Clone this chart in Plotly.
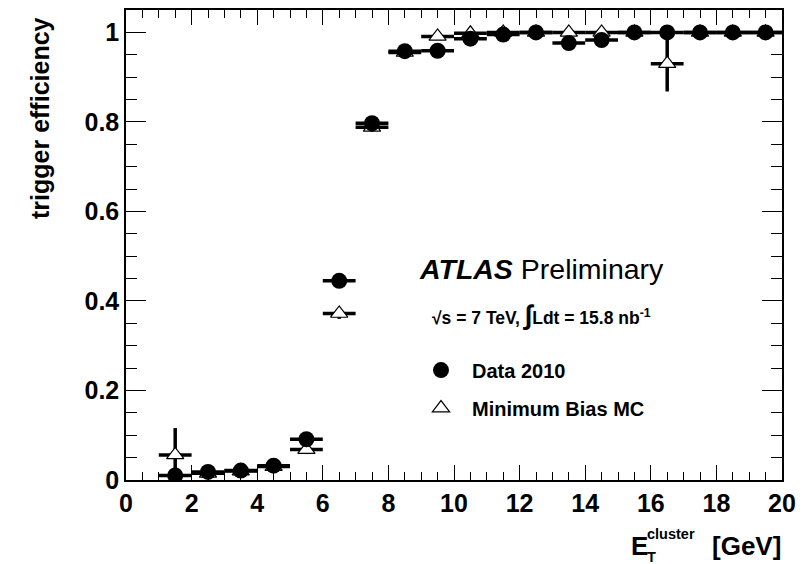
import plotly.graph_objects as go

# ---------------- data ----------------
bin_centers = [1.5, 2.5, 3.5, 4.5, 5.5, 6.5, 7.5, 8.5, 9.5, 10.5,
               11.5, 12.5, 13.5, 14.5, 15.5, 16.5, 17.5, 18.5, 19.5]
bin_half_width = [0.5] * 19

data_eff = [0.010, 0.018, 0.021, 0.032, 0.091, 0.445, 0.797, 0.958, 0.959, 0.986,
            0.995, 1.000, 0.976, 0.983, 1.000, 1.000, 1.000, 1.000, 1.000]
data_err = [0.004, 0.003, 0.003, 0.004, 0.008, 0.012, 0.010, 0.006, 0.006, 0.005,
            0.004, 0.002, 0.006, 0.006, 0.002, 0.002, 0.002, 0.002, 0.002]

mc_eff = [0.056, 0.015, 0.020, 0.030, 0.068, 0.372, 0.788, 0.955, 0.991, 0.998,
          1.000, 1.000, 1.000, 1.000, 1.000, 0.930, 1.000, 1.000, 1.000]
mc_err = [0.060, 0.006, 0.006, 0.007, 0.010, 0.012, 0.010, 0.006, 0.005, 0.004,
          0.003, 0.003, 0.003, 0.003, 0.003, 0.062, 0.003, 0.003, 0.003]

x_ticks = [0, 2, 4, 6, 8, 10, 12, 14, 16, 18, 20]
y_ticks = [0, 0.2, 0.4, 0.6, 0.8, 1]
y_tick_labels = ["0", "0.2", "0.4", "0.6", "0.8", "1"]

FONT = "Arial, Liberation Sans, Helvetica, sans-serif"

# pixel helpers for decoration placement (plot area 126..782 x 8..480)
L, R, T, B = 126, 782, 8, 480
def px(x):
    return (x - L) / (R - L)
def py(y):
    return (B - y) / (B - T)

fig = go.Figure()

fig.add_trace(go.Scatter(
    x=bin_centers, y=mc_eff, mode="markers", name="Minimum Bias MC",
    legendgroup="mc", legendrank=2,
    marker=dict(symbol="triangle-up", size=15, color="white",
                line=dict(color="black", width=1.2)),
    error_x=dict(type="data", array=bin_half_width, thickness=3.5, width=0, color="black"),
    error_y=dict(type="data", array=mc_err, thickness=3.5, width=0, color="black"),
))

fig.add_trace(go.Scatter(
    x=bin_centers, y=data_eff, mode="markers", name="Data 2010",
    legendgroup="data", legendrank=1,
    marker=dict(symbol="circle", size=16, color="black",
                line=dict(color="black", width=0)),
    error_x=dict(type="data", array=bin_half_width, thickness=3.5, width=0, color="black"),
    error_y=dict(type="data", array=data_err, thickness=3.5, width=0, color="black"),
))

axis_common = dict(
    showline=True, linecolor="black", linewidth=1.5, mirror="ticks",
    ticks="inside", tickcolor="black", tickwidth=1.2,
    showgrid=False, zeroline=False,
    tickfont=dict(family=FONT, size=25, color="black", weight="bold"),
)

fig.update_xaxes(
    range=[0, 20], tickvals=x_ticks, ticklen=15,
    minor=dict(dtick=0.5, ticks="inside", ticklen=8, tickcolor="black", tickwidth=1.2),
    **axis_common,
)
fig.update_yaxes(
    range=[0, 1.05], tickvals=y_ticks, ticktext=y_tick_labels, ticklen=20,
    minor=dict(dtick=0.05, ticks="inside", ticklen=11, tickcolor="black", tickwidth=1.2),
    **axis_common,
)

annotations = [
    dict(text="<b><i>ATLAS</i></b> Preliminary", x=px(417), y=py(268),
         xanchor="left", yanchor="middle", font=dict(family=FONT, size=28.5)),
    dict(text="<b>√s = 7 TeV, <span style='font-size:27px'>∫</span>Ldt = 15.8 nb<sup>-1</sup></b>",
         x=px(430), y=py(314), xanchor="left", yanchor="middle",
         font=dict(family=FONT, size=17.5)),
    dict(text="<b>[GeV]</b>", x=px(783), y=py(546), xanchor="right", yanchor="middle",
         font=dict(family=FONT, size=26)),
    dict(text="<b>E</b>", x=px(629), y=py(546), xanchor="left", yanchor="middle",
         font=dict(family=FONT, size=26)),
    dict(text="<b>cluster</b>", x=px(645), y=py(534), xanchor="left", yanchor="middle",
         font=dict(family=FONT, size=14.5)),
    dict(text="<b>T</b>", x=px(645), y=py(557), xanchor="left", yanchor="middle",
         font=dict(family=FONT, size=14.5)),
    dict(text="<b>trigger efficiency</b>", textangle=-90, x=px(40), y=py(13),
         xanchor="center", yanchor="top", font=dict(family=FONT, size=25)),
]
for a in annotations:
    a.update(xref="paper", yref="paper", showarrow=False)
    a["font"]["color"] = "black"

fig.update_layout(
    width=805, height=564,
    margin=dict(l=L, r=805 - R, t=T, b=564 - B),
    paper_bgcolor="white", plot_bgcolor="white",
    showlegend=True,
    legend=dict(x=px(410), y=py(350), xanchor="left", yanchor="top",
                bgcolor="rgba(0,0,0,0)", borderwidth=0,
                font=dict(family=FONT, size=20, color="black", weight="bold"),
                traceorder="grouped", tracegroupgap=9, itemwidth=52,
                itemclick=False),
    annotations=annotations,
)

fig.write_html("out.html", config={"displayModeBar": False},
               post_script="document.body.style.margin='0';document.body.style.padding='0';")
